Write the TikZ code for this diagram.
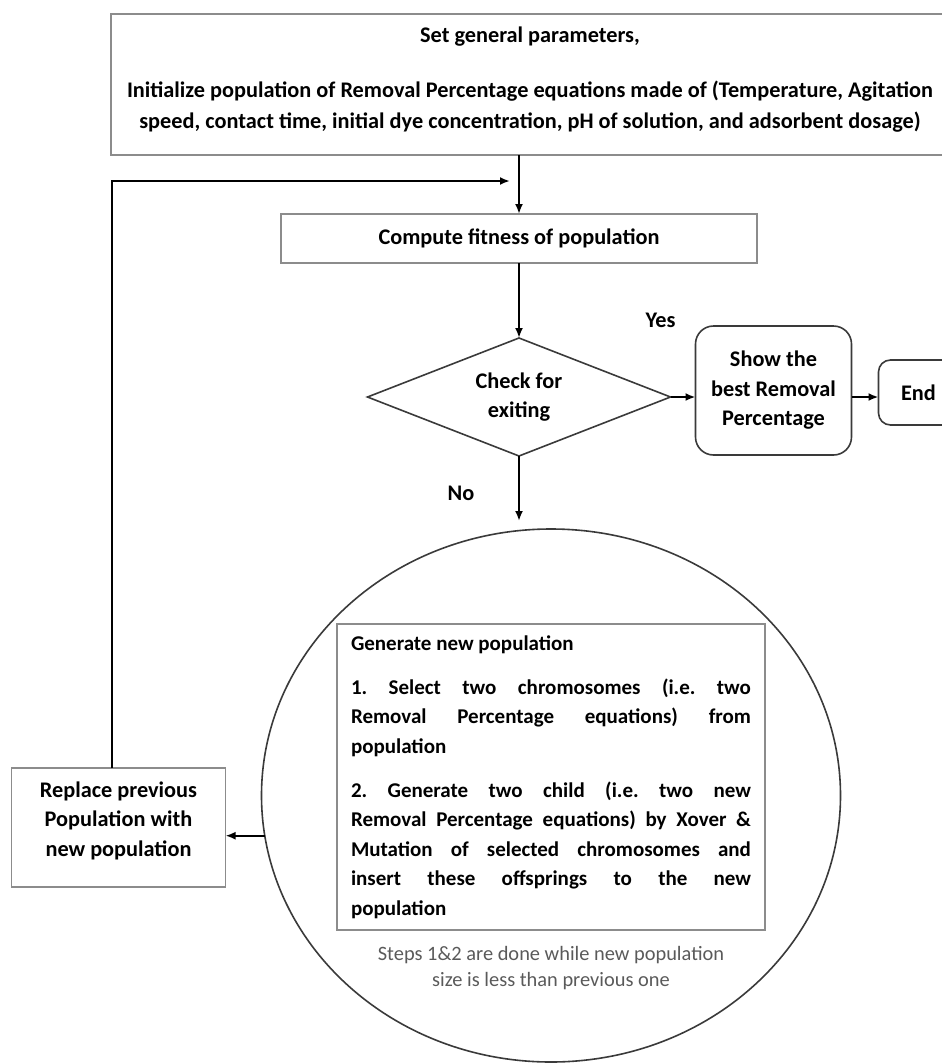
\documentclass[tikz,border=0pt]{standalone}
\usepackage{fontspec}
\setmainfont{Carlito}
\usetikzlibrary{positioning,shapes.geometric,arrows.meta}
\definecolor{boxgray}{HTML}{8C8C8C}
\definecolor{linedark}{HTML}{3A3A3A}
\definecolor{notegray}{HTML}{5A5A5A}
\begin{document}
\begin{tikzpicture}[x=1pt, y=1pt,
    every node/.style={font=\fontsize{22.3}{29.5}\selectfont\bfseries, inner sep=0pt, outer sep=0pt},
    box/.style={draw=boxgray, line width=1.6pt, align=center},
    decision/.style={diamond, aspect=2.57, draw=linedark, line width=1.6pt, align=center},
    term/.style={draw=linedark, line width=1.6pt, align=center},
    flow/.style={line width=2pt, -{Latex[length=10pt,width=8pt]}}
  ]
      \useasboundingbox (0,0) rectangle (942,-1063);

      \node [box, minimum width=838pt, minimum height=141pt, text depth=13pt, font=\fontsize{22.3}{31}\selectfont\bfseries] (init) at (530,-84.5)
        {Set general parameters,\\[24pt]Initialize population of Removal Percentage equations made of (Temperature, Agitation\\speed, contact time, initial dye concentration, pH of solution, and adsorbent dosage)};
      \node [box, below=59pt of init, xshift=-11pt, minimum width=476pt, minimum height=49pt] (fit) {Compute fitness of population};
      \node [decision, below=75pt of fit, minimum width=303pt, minimum height=118pt] (check) {Check for\\exiting};
      \node [term, right=25pt of check, yshift=6.5pt, minimum width=156pt, minimum height=129pt, rounded corners=18pt] (show) {Show the\\best Removal\\Percentage};
      \node [term, right=27pt of show, yshift=-2pt, minimum width=80pt, minimum height=65pt, rounded corners=12pt] (end) {End};
      \node [ellipse, draw=linedark, line width=1.6pt, below=73pt of check, xshift=32pt, minimum width=579pt, minimum height=533pt] (gen) {};
      \node [box, minimum width=428pt, minimum height=306pt, text width=400pt, align=justify,
        font=\fontsize{21}{29.5}\selectfont\bfseries\setlength{\parindent}{0pt}\setlength{\parskip}{14.5pt}] (steps) at ([yshift=18.5pt]gen.center)
        {Generate new population\par
        1.\ Select two chromosomes (i.e.\ two\linebreak Removal Percentage equations) from\linebreak population\par
        2.\ Generate two child (i.e.\ two new\linebreak Removal Percentage equations) by Xover \&\linebreak Mutation of selected chromosomes and\linebreak insert these offsprings to the new\linebreak population};
      \node [below=16pt of steps, align=center, text=notegray, font=\fontsize{20.4}{26}\selectfont] (note) {Steps 1\&2 are done while new population\\size is less than previous one};
      \node [box, left=36pt of gen, yshift=-32pt, minimum width=214pt, minimum height=119pt, text depth=17pt] (repl) {Replace previous\\Population with\\new population};

      \node at ([shift={(-10pt,77pt)}]check.east) (yes) {Yes};
      \node at ([shift={(-58pt,-37pt)}]check.south) (no) {No};

      \coordinate (back) at (112,-181);
      \coordinate (merge) at ([shift={(-9pt,33pt)}]fit.north);

      \draw [flow] (fit.north |- init.south) -- (fit.north);
      \draw [flow] (fit) -- (check);
      \draw [flow] (check.east) -- (check.east -| show.west);
      \draw [flow] (show.east |- check.east) -- (end.west |- check.east);
      \draw [flow] (check.south) -- ([yshift=8pt]check.south |- gen.north);
      \draw [flow] (gen.188.6) -- (gen.188.6 -| repl.east);
      \draw [flow] (repl.north -| back) -- (back) -- (merge);
    \end{tikzpicture}
\end{document}
